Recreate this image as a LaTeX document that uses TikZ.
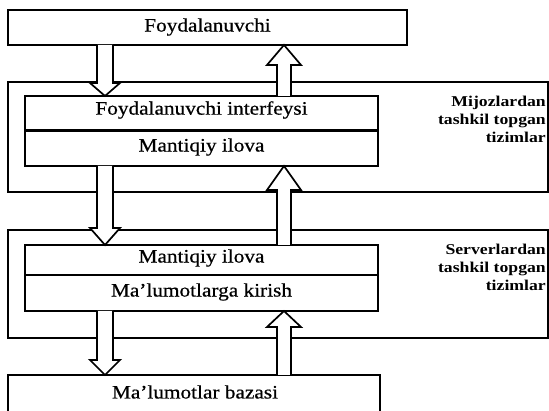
\documentclass[tikz,border=0pt]{standalone}
\usepackage{fontspec}
\setmainfont{Liberation Serif}[FakeStretch=1.12, FakeBold=0.6]
\newfontfamily\notefont{Liberation Serif}[FakeStretch=1.18]
\usetikzlibrary{calc}

\tikzset{
  boxline/.style={draw, line width=1.9pt},
  boxlabel/.style={font=\fontsize{19}{22}\selectfont},
  sidenote/.style={font=\notefont\bfseries\fontsize{15}{18}\selectfont, align=right, anchor=north east, inner sep=0pt},
  blockarrow/.style={draw, fill=white, line width=1.7pt, line join=miter},
}

% hollow block arrow pointing down: x position, source node, target node, head length
\newcommand\blockdown[4]{%
  \draw[blockarrow] let \p1=(#2.south), \p2=(#3.north) in
    (#1pt-8pt,\y1) -- (#1pt-8pt,\y2+#4pt) -- (#1pt-15pt,\y2+#4pt) -- (#1pt,\y2)
    -- (#1pt+15pt,\y2+#4pt) -- (#1pt+8pt,\y2+#4pt) -- (#1pt+8pt,\y1);}
% hollow block arrow pointing up: x position, source node, target node, head length
\newcommand\blockup[4]{%
  \draw[blockarrow] let \p1=(#2.north), \p2=(#3.south) in
    (#1pt-7pt,\y1) -- (#1pt-7pt,\y2-#4pt) -- (#1pt-17pt,\y2-#4pt) -- (#1pt,\y2)
    -- (#1pt+17pt,\y2-#4pt) -- (#1pt+7pt,\y2-#4pt) -- (#1pt+7pt,\y1);}

\begin{document}
\begin{tikzpicture}[x=1pt, y=-1pt]
\useasboundingbox (0,0) rectangle (549,411);
\begin{scope}
\clip (0,0) rectangle (549,411);

% user at the top
\draw[boxline] (8,10) rectangle (407,45);
\node[boxlabel] (user) at (207.5,27) {Foydalanuvchi};
\coordinate (userS) at (207.5,45);

% client side
\draw[boxline] (8,82) rectangle (548,192);
\draw[boxline] (25,96) rectangle (378,166);
\draw[line width=3pt] (25,131) -- (378,131);
\node[boxlabel] (ui) at (201.5,110) {Foydalanuvchi interfeysi};
\node[boxlabel] (logic1) at (201.5,147) {Mantiqiy ilova};
\coordinate (uiN) at (201.5,96);
\coordinate (logic1S) at (201.5,166);
\node[sidenote] (clients) at (546,96) {Mijozlardan\\tashkil topgan\\tizimlar};

% server side
\draw[boxline] (8,230) rectangle (548,338);
\draw[boxline] (25,245) rectangle (378,311);
\draw[line width=2.2pt] (25,275) -- (378,275);
\node[boxlabel] (logic2) at (201.5,258) {Mantiqiy ilova};
\node[boxlabel] (access) at (201.5,292) {Ma’lumotlarga kirish};
\coordinate (logic2N) at (201.5,245);
\coordinate (accessS) at (201.5,311);
\node[sidenote] (servers) at (546,244) {Serverlardan\\tashkil topgan\\tizimlar};

% database at the bottom
\draw[boxline] (8,375) rectangle (380,440);
\node[boxlabel] (db) at (195,392) {Ma’lumotlar bazasi};
\coordinate (dbN) at (195,375);

% requests going down, answers going up
\blockdown{105}{userS}{uiN}{13}
\blockup{284}{uiN}{userS}{20}
\blockdown{105}{logic1S}{logic2N}{17}
\blockup{284}{logic2N}{logic1S}{24}
\blockdown{105}{accessS}{dbN}{15}
\blockup{284}{dbN}{accessS}{16}
\end{scope}
\end{tikzpicture}
\end{document}
